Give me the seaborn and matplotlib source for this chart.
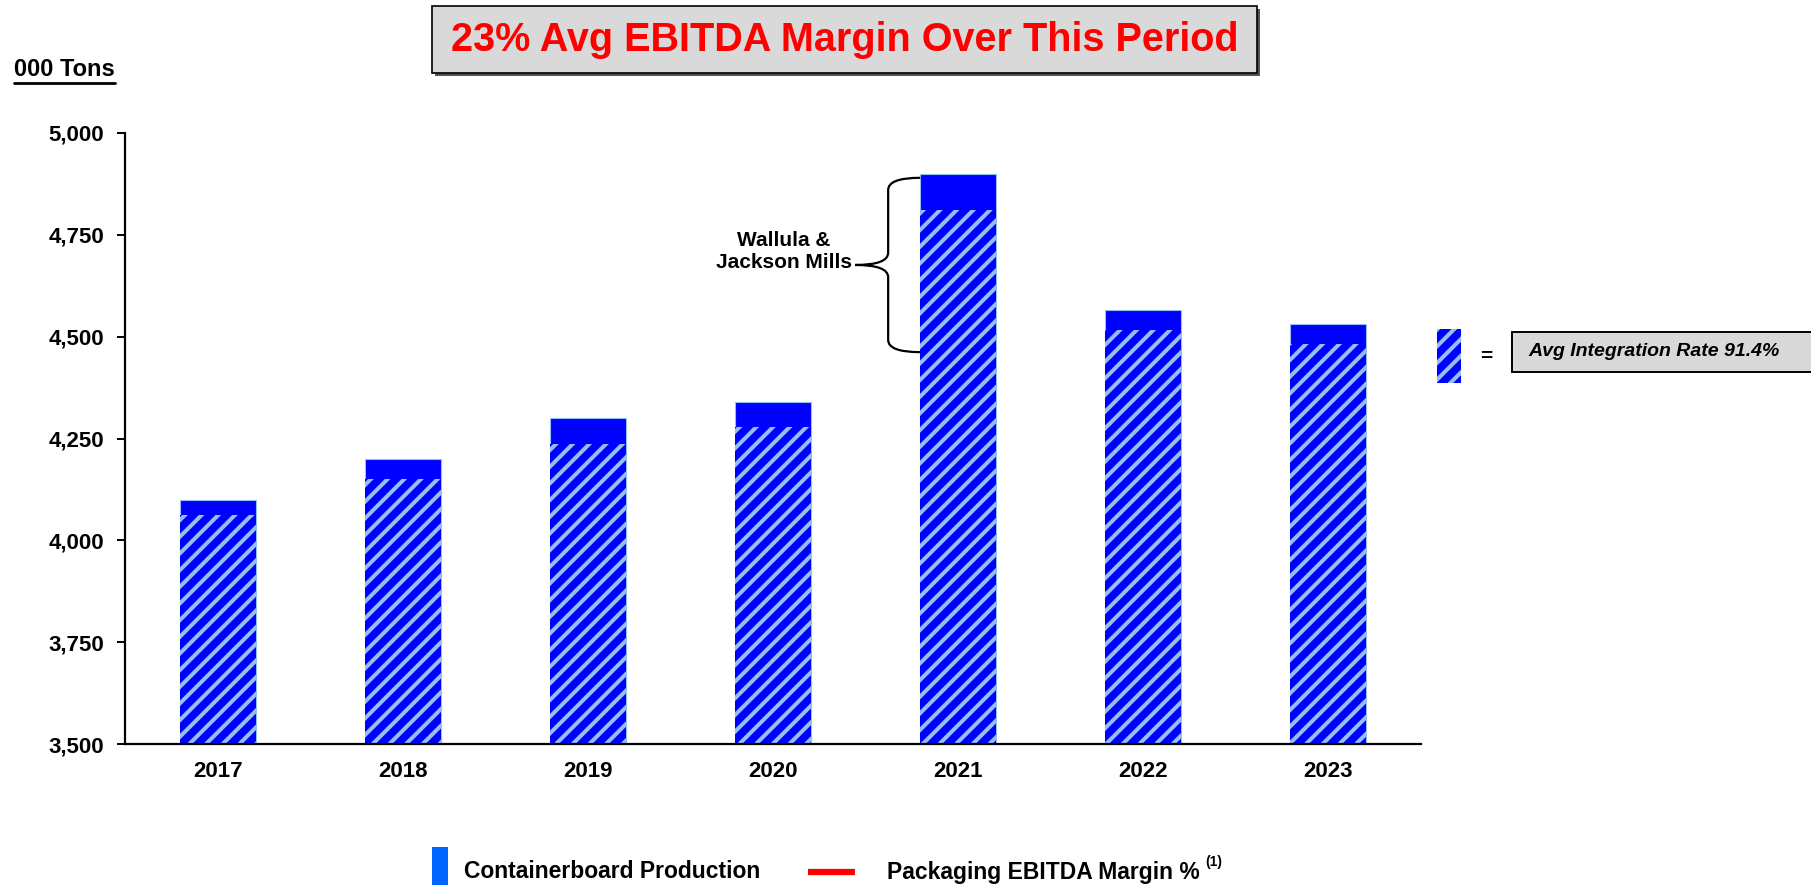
import numpy as np
import pandas as pd
import matplotlib
matplotlib.use("Agg")
import matplotlib.pyplot as plt
import seaborn as sns
from matplotlib.patches import Rectangle, PathPatch
from matplotlib.path import Path
from matplotlib.lines import Line2D
from matplotlib.ticker import FuncFormatter

# ---------------- data ----------------
years = ["2017", "2018", "2019", "2020", "2021", "2022", "2023"]
production = [4100, 4200, 4300, 4340, 4900, 4565, 4530]      # total containerboard production (000 tons)
integrated = [4062, 4151, 4236, 4278, 4811, 4516, 4482]      # hatched (integrated) portion
yticks = [3500, 3750, 4000, 4250, 4500, 4750, 5000]
title_text = "23% Avg EBITDA Margin Over This Period"
ylabel_text = "000 Tons"
callout_text = "Wallula &\nJackson Mills"
integration_text = "Avg Integration Rate 91.4%"
legend_labels = ["Containerboard Production", "Packaging EBITDA Margin %"]

BLUE = "#0000ff"
HATCH_BLUE = "#93c0f2"

sns.set_style("white")
plt.rcParams["font.family"] = ["Liberation Sans", "DejaVu Sans"]
plt.rcParams["hatch.linewidth"] = 2.9
for k in ["text.color", "axes.labelcolor", "xtick.color", "ytick.color"]:
    plt.rcParams[k] = "black"

W, H = 1811, 885
fig = plt.figure(figsize=(W / 100, H / 100), dpi=100)
ax = fig.add_axes([125 / W, 1 - 744 / H, (1421 - 125) / W, (744 - 133) / H])

df = pd.DataFrame({"year": years, "production": production, "integrated": integrated})

sns.barplot(data=df, x="year", y="production", order=years, color=BLUE,
            saturation=1, width=0.41, edgecolor=HATCH_BLUE, linewidth=0.8, ax=ax)
sns.barplot(data=df, x="year", y="integrated", order=years, color=BLUE,
            saturation=1, width=0.41, hatch="//", edgecolor=HATCH_BLUE,
            linewidth=0, ax=ax)

ax.set_ylim(yticks[0], yticks[-1])
ax.set_xlim(-0.5, len(years) - 0.5)
ax.set_yticks(yticks)
ax.yaxis.set_major_formatter(FuncFormatter(lambda v, p: f"{int(v):,}"))
ax.set_xlabel("")
ax.set_ylabel("")
for s in ["top", "right"]:
    ax.spines[s].set_visible(False)
for s in ["left", "bottom"]:
    ax.spines[s].set_color("black")
    ax.spines[s].set_linewidth(1.6)
ax.tick_params(axis="y", left=True, length=6, width=1.4, color="black", pad=9,
               labelsize=16, labelcolor="black")
ax.tick_params(axis="x", bottom=False, length=0, pad=12, labelsize=16,
               labelcolor="black")
for lab in ax.get_xticklabels() + ax.get_yticklabels():
    lab.set_fontweight("bold")

# ---------------- callout brace ----------------
top = production[4] - 10
bot = 4462
mid = (top + bot) / 2
xt, xv, xp = 4 - 0.205, 3.622, 3.444
verts = [(xt, top), (xv, top), (xv, top - 30),
         (xv, mid + 30),
         (xv, mid), (xp, mid),
         (xv, mid), (xv, mid - 30),
         (xv, bot + 30),
         (xv, bot), (xt, bot)]
codes = [Path.MOVETO, Path.CURVE3, Path.CURVE3,
         Path.LINETO,
         Path.CURVE3, Path.CURVE3,
         Path.CURVE3, Path.CURVE3,
         Path.LINETO,
         Path.CURVE3, Path.CURVE3]
ax.add_patch(PathPatch(Path(verts, codes), fill=False, edgecolor="black",
                       linewidth=1.6, clip_on=False))
ax.text(3.06, mid + 33, callout_text, ha="center", va="center",
        multialignment="center", fontsize=15, fontweight="bold",
        linespacing=1.15, color="black")

# ---------------- title box ----------------
fig.patches.append(Rectangle((435 / W, 1 - 76 / H), 825 / W, 67 / H,
                             transform=fig.transFigure, facecolor="#555555",
                             edgecolor="none", zorder=1))
fig.patches.append(Rectangle((432 / W, 1 - 73 / H), 825 / W, 67 / H,
                             transform=fig.transFigure, facecolor="#d9d9d9",
                             edgecolor="black", linewidth=1.2, zorder=2))
fig.text(844.5 / W, 1 - 40 / H, title_text, ha="center", va="center",
         color="#ff0000", fontsize=28.5, fontweight="bold", zorder=3)

# ---------------- y label ----------------
yl = fig.text(14 / W, 1 - 70 / H, ylabel_text, ha="left", va="center",
              fontsize=17, fontweight="bold", color="black")
fig.canvas.draw()
bb = yl.get_window_extent()
fig.add_artist(Line2D([bb.x0 / W, bb.x1 / W], [1 - 83 / H, 1 - 83 / H],
                      transform=fig.transFigure, color="black", linewidth=2))

# ---------------- integration legend ----------------
fig.patches.append(Rectangle((1437 / W, 1 - 383 / H), 24 / W, 54 / H,
                             transform=fig.transFigure, facecolor=BLUE,
                             edgecolor=HATCH_BLUE, linewidth=0, hatch="//"))
fig.text(1486 / W, 1 - 356 / H, "=", ha="center", va="center",
         fontsize=15, fontweight="bold", color="black")
fig.patches.append(Rectangle((1512 / W, 1 - 372 / H), 330 / W, 40 / H,
                             transform=fig.transFigure, facecolor="#d9d9d9",
                             edgecolor="black", linewidth=1.4))
fig.text(1528 / W, 1 - 352 / H, integration_text, ha="left", va="center",
         fontsize=14, fontweight="bold", fontstyle="italic", color="black")

# ---------------- bottom legend ----------------
fig.patches.append(Rectangle((432 / W, 0), 16 / W, 38 / H,
                             transform=fig.transFigure, facecolor="#0066ff",
                             edgecolor="none"))
fig.text(464 / W, 1 - 872 / H, legend_labels[0], ha="left", va="center",
         fontsize=16.5, fontweight="bold", color="black")
fig.add_artist(Line2D([808 / W, 855 / W], [1 - 872 / H, 1 - 872 / H],
                      transform=fig.transFigure, color="#ff0000", linewidth=4.5,
                      solid_capstyle="butt"))
t2 = fig.text(887 / W, 1 - 872 / H, legend_labels[1], ha="left", va="center",
              fontsize=16.5, fontweight="bold", color="black")
fig.canvas.draw()
bb2 = t2.get_window_extent()
fig.text((bb2.x1 + 5) / W, 1 - 862 / H, "(1)", ha="left", va="center",
         fontsize=10, fontweight="bold", color="black")

fig.savefig("out.png", dpi=100)
